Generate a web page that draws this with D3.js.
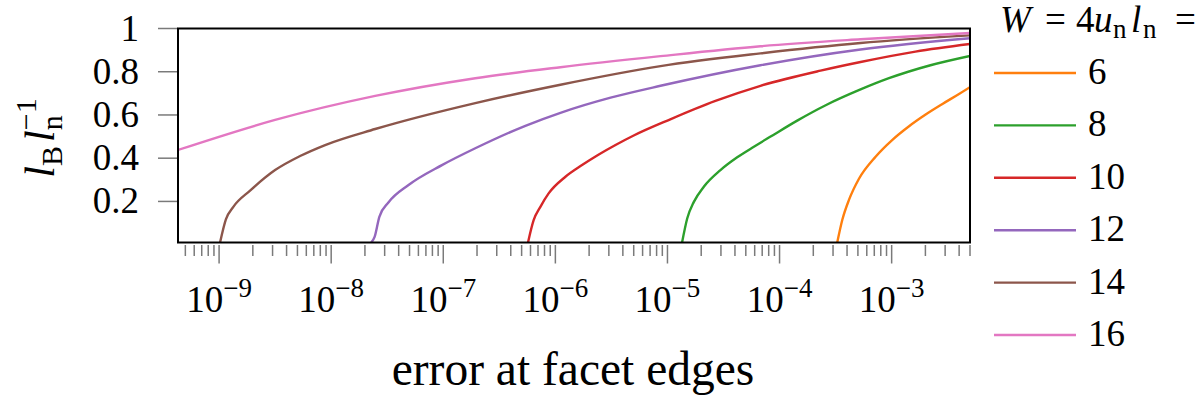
<!DOCTYPE html>
<html><head><meta charset="utf-8">
<script src="https://cdn.jsdelivr.net/npm/d3@7"></script>
<style>
html,body{margin:0;padding:0;background:#fff;}
svg text{font-family:"Liberation Serif","DejaVu Serif",serif;fill:#000;}
</style></head>
<body>
<svg id="chart" width="1200" height="395"></svg>
<script>
// ---- data ----
const seriesNames = ["6", "8", "10", "12", "14", "16"];
const seriesColors = ["#ff7f0e", "#2ca02c", "#d62728", "#9467bd", "#8c564b", "#e377c2"];
const W6 = [[3.27e-4,0.01],[3.63e-4,0.115],[4.16e-4,0.207],[5.11e-4,0.305],[7.19e-4,0.407],[1.01e-3,0.484],[1.43e-3,0.548],[2.01e-3,0.602],[2.84e-3,0.651],[3.99e-3,0.697],[5e-3,0.729]];
const W8 = [[1.35e-5,0.01],[1.50e-5,0.121],[1.72e-5,0.198],[2.11e-5,0.268],[2.97e-5,0.345],[4.19e-5,0.404],[5.90e-5,0.453],[8.32e-5,0.500],[1.45e-4,0.575],[2.58e-4,0.645],[5.28e-4,0.718],[9.46e-4,0.770],[2.22e-3,0.830],[5e-3,0.873]];
const W10 = [[5.70e-7,0.01],[6.40e-7,0.113],[7.35e-7,0.175],[8.71e-7,0.237],[1.23e-6,0.314],[1.73e-6,0.368],[2.44e-6,0.417],[3.44e-6,0.461],[5.00e-6,0.505],[1.06e-5,0.580],[2.68e-5,0.665],[6.76e-5,0.735],[2.32e-4,0.805],[5.28e-4,0.845],[1.63e-3,0.893],[5e-3,0.928]];
const W12 = [[2.28e-8,0.01],[2.44e-8,0.036],[2.69e-8,0.129],[3.24e-8,0.195],[4.90e-8,0.276],[9.73e-8,0.368],[1.93e-7,0.446],[5.40e-7,0.550],[1.11e-6,0.610],[3.11e-6,0.680],[8.67e-6,0.735],[6.76e-5,0.830],[5.28e-4,0.903],[5e-3,0.955]];
const W14 = [[1.02e-9,0.01],[1.15e-9,0.117],[1.34e-9,0.175],[1.89e-9,0.25],[3.16e-9,0.345],[5.28e-9,0.41],[8.83e-9,0.461],[2.47e-8,0.535],[1.93e-7,0.655],[1.11e-6,0.740],[8.67e-6,0.826],[6.76e-5,0.885],[5.28e-4,0.933],[5e-3,0.968]];
const W16 = [[4.3e-10,0.438],[3.16e-9,0.577],[2.47e-8,0.688],[1.93e-7,0.770],[1.11e-6,0.821],[8.67e-6,0.872],[6.76e-5,0.918],[5.28e-4,0.950],[5e-3,0.979]];
const seriesValues = [W6, W8, W10, W12, W14, W16];
const yTickValues = [0.2, 0.4, 0.6, 0.8, 1];
const yTickLabels = ["0.2", "0.4", "0.6", "0.8", "1"];
const xMajorExponents = [-9, -8, -7, -6, -5, -4, -3];
const xDomain = [4.3e-10, 5e-3];
const yDomain = [0.01, 1];

// ---- layout ----
const L = 178, R = 970, T = 28.5, B = 242.5;
const svg = d3.select("#chart");
const x = d3.scaleLog().domain(xDomain).range([L, R]);
const y = d3.scaleLinear().domain(yDomain).range([B, T]);

// minor + major x ticks
const allTicks = [];
for (let e = -10; e <= -3; e++) {
  for (let m = 1; m <= 9; m++) {
    const v = m * Math.pow(10, e);
    if (v >= xDomain[0] * 0.999 && v <= xDomain[1] * 1.001) allTicks.push({v, major: m === 1});
  }
}
const tg = svg.append("g");
tg.selectAll("line.xt").data(allTicks).join("line")
  .attr("x1", d => x(d.v)).attr("x2", d => x(d.v))
  .attr("y1", B + 2.5).attr("y2", d => d.major ? B + 21 : B + 13.5)
  .attr("stroke", "#7a7a7a").attr("stroke-width", 1.5);

// y ticks
tg.selectAll("line.yt").data(yTickValues).join("line")
  .attr("x1", L - 20).attr("x2", L)
  .attr("y1", d => y(d)).attr("y2", d => y(d))
  .attr("stroke", "#7a7a7a").attr("stroke-width", 1.5);

svg.append("g").selectAll("text").data(yTickValues).join("text")
  .attr("x", 139).attr("y", d => y(d) + 12)
  .attr("text-anchor", "end").attr("font-size", 37)
  .text((d, i) => yTickLabels[i]);

// x tick labels
const xl = svg.append("g").selectAll("text").data(xMajorExponents).join("text")
  .attr("x", d => x(Math.pow(10, d))).attr("y", 312)
  .attr("text-anchor", "middle").attr("font-size", 37);
xl.append("tspan").text("10");
xl.append("tspan").attr("font-size", 27).attr("dy", -15).text(d => "\u2212" + Math.abs(d));

// curves
const line = d3.line().x(d => x(d[0])).y(d => y(d[1])).curve(d3.curveMonotoneX);
svg.append("clipPath").attr("id", "clip").append("rect")
  .attr("x", L).attr("y", T - 2).attr("width", R - L).attr("height", B - T + 2);
svg.append("g").attr("clip-path", "url(#clip)").selectAll("path").data(seriesValues).join("path")
  .attr("d", line).attr("fill", "none")
  .attr("stroke", (d, i) => seriesColors[i]).attr("stroke-width", 2.4);

// frame
svg.append("rect").attr("x", L).attr("y", T).attr("width", R - L).attr("height", B - T)
  .attr("fill", "none").attr("stroke", "#000").attr("stroke-width", 2);

// axis titles
svg.append("text").attr("x", 573).attr("y", 385).attr("text-anchor", "middle")
  .attr("font-size", 47.5).text("error at facet edges");

const yt = svg.append("text").attr("transform", "translate(54,138) rotate(-90)")
  .attr("text-anchor", "middle").attr("font-size", 42);
yt.append("tspan").attr("font-style", "italic").text("l");
yt.append("tspan").attr("font-size", 30).attr("dy", 8).text("B");
yt.append("tspan").attr("font-style", "italic").attr("dy", -8).attr("dx", 4).text("l");
yt.append("tspan").attr("font-size", 30).attr("dy", 8).text("n");
yt.append("tspan").attr("font-size", 30).attr("dy", -26).attr("dx", -15).text("\u22121");

// legend title
const lgTitle = svg.append("text").attr("y", 32).attr("font-size", 37);
lgTitle.append("tspan").attr("x", 1000).attr("font-style", "italic").text("W");
lgTitle.append("tspan").attr("x", 1045).text("=");
lgTitle.append("tspan").attr("x", 1076).text("4");
lgTitle.append("tspan").attr("x", 1094).attr("font-style", "italic").text("u");
lgTitle.append("tspan").attr("x", 1113).attr("font-size", 27).attr("dy", 6).text("n");
lgTitle.append("tspan").attr("x", 1131).attr("font-style", "italic").attr("dy", -6).text("l");
lgTitle.append("tspan").attr("x", 1143).attr("font-size", 27).attr("dy", 6).text("n");
lgTitle.append("tspan").attr("x", 1175).attr("dy", -6).text("=");

const lg = svg.append("g").selectAll("g").data(seriesNames).join("g")
  .attr("transform", (d, i) => `translate(0,${73 + i * 52.4})`);
lg.append("line").attr("x1", 994).attr("x2", 1076).attr("y1", 0).attr("y2", 0)
  .attr("stroke", (d, i) => seriesColors[i]).attr("stroke-width", 2.4);
lg.append("text").attr("x", 1088).attr("y", 11).attr("font-size", 37).text(d => d);
</script>
</body></html>
